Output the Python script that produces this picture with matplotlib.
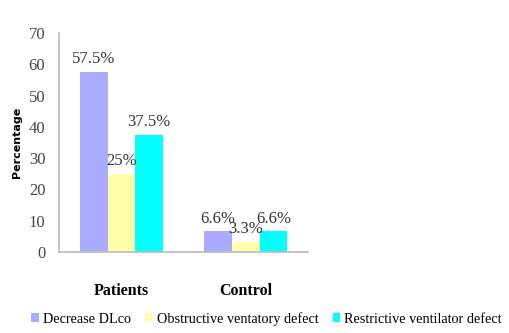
import matplotlib
matplotlib.use('Agg')
import matplotlib.pyplot as plt
import numpy as np

groups = ['Patients', 'Control']
series = ['Decrease DLco', 'Obstructive ventatory defect', 'Restrictive ventilator defect']
values = [[57.5, 6.6], [25, 3.3], [37.5, 6.6]]
labels = [['57.5%', '6.6%'], ['25%', '3.3%'], ['37.5%', '6.6%']]
colors = ['#aaaaff', '#ffffaa', '#00ffff']

plt.rcParams['font.family'] = ['Liberation Serif', 'DejaVu Serif']

fig = plt.figure(figsize=(5.1, 3.33), dpi=100)
ax = fig.add_axes([0.116, 0.243, 0.488, 0.658])

x = np.arange(len(groups))
w = 0.222
for i, (vals, labs, c) in enumerate(zip(values, labels, colors)):
    pos = x + (i - 1) * w
    ax.bar(pos, vals, w, color=c, label=series[i])
    for p, v, t in zip(pos, vals, labs):
        ax.text(p, v + 1.5, t, ha='center', va='bottom', fontsize=12, color='#333333')

ax.set_xlim(-0.5, 1.5)
ax.set_ylim(0, 70)
ax.set_yticks(range(0, 71, 10))
ax.tick_params(axis='y', length=0, labelsize=12, labelcolor='#444444', pad=10)
ax.set_xticks(x)
ax.set_xticklabels(groups, fontweight='bold', fontsize=11.5)
ax.tick_params(axis='x', length=0, pad=22)
for s in ['top', 'right']:
    ax.spines[s].set_visible(False)
ax.spines['left'].set_color('#bbbbbb')
ax.spines['bottom'].set_color('#bbbbbb')
ax.spines['left'].set_linewidth(1.2)
ax.spines['bottom'].set_linewidth(1.2)
ax.set_ylabel('Percentage', fontsize=8, fontweight='bold', family='DejaVu Sans', labelpad=5)

ax.legend(loc='upper left', bbox_to_anchor=(-0.14, -0.24), ncol=3, frameon=False,
          fontsize=10.3, handlelength=0.5, handleheight=0.5, handletextpad=0.3,
          columnspacing=1.0, borderpad=0)

fig.savefig('out.png', dpi=100)
